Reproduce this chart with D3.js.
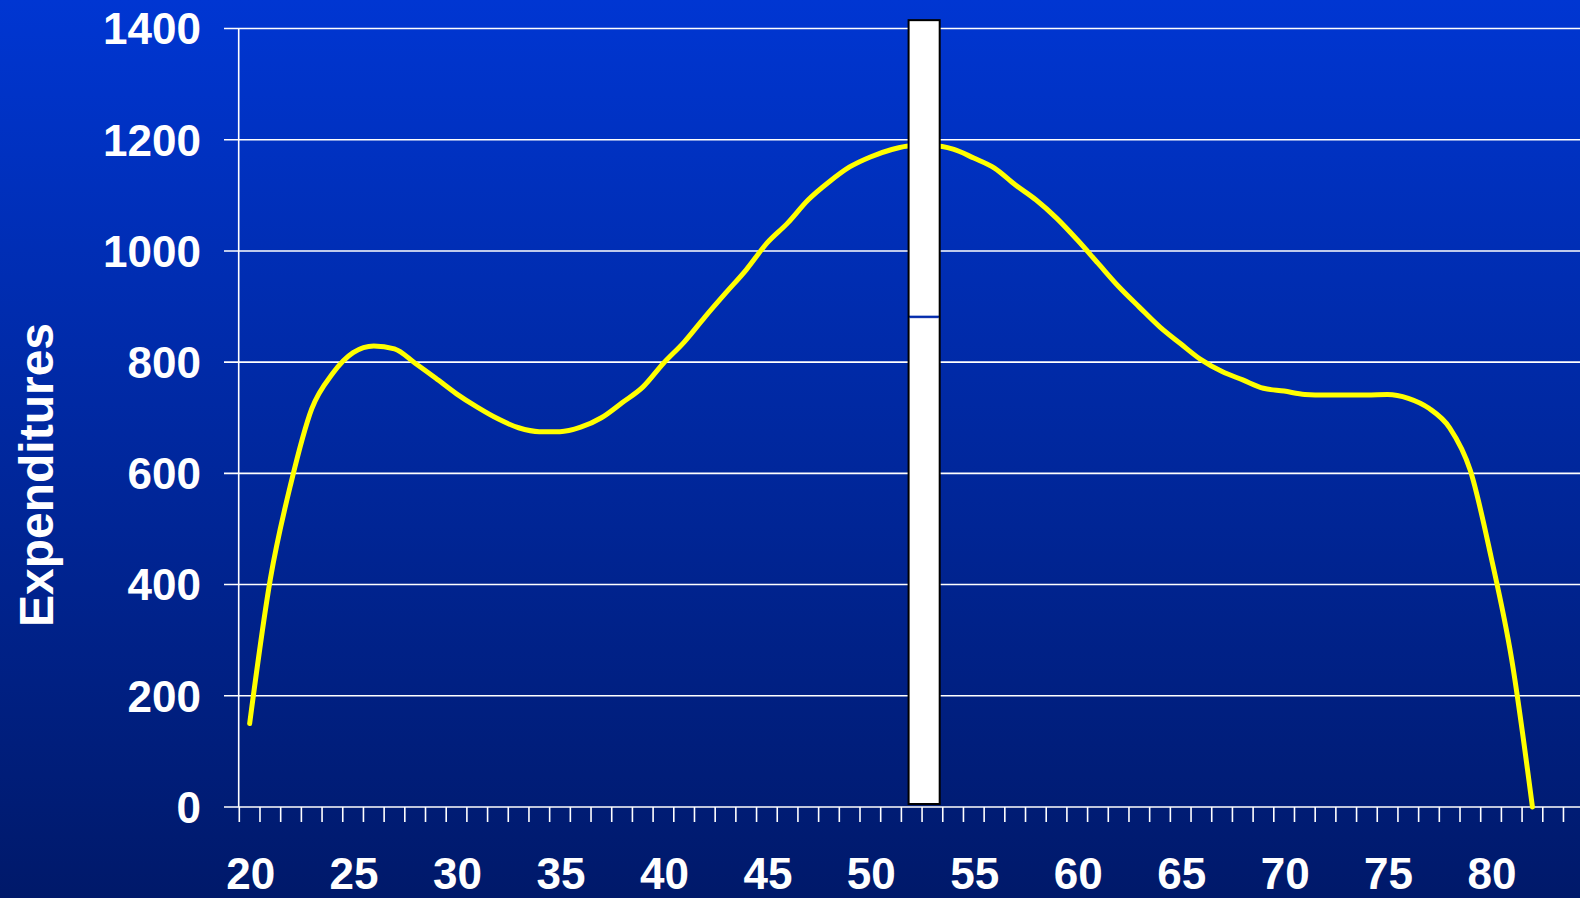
<!DOCTYPE html>
<html>
<head>
<meta charset="utf-8">
<script src="https://cdn.jsdelivr.net/npm/d3@7"></script>
<style>
  html, body { margin: 0; padding: 0; background: #0a2bb0; }
  svg { display: block; }
  text { font-family: "Liberation Sans", Arial, sans-serif; font-weight: bold; fill: #ffffff; }
</style>
</head>
<body>
<svg id="chart" width="1580" height="898"></svg>
<script>
// Spending by age of household head
const ages = d3.range(20, 83);
const expenditures = [
  150, 410, 583, 716, 779, 817, 829, 824, 798, 771,
  743, 719, 698, 682, 675, 675, 683, 700, 727, 755,
  798, 836, 881, 924, 966, 1014, 1050, 1092, 1124, 1151,
  1169, 1182, 1189, 1189, 1183, 1167, 1149, 1119, 1092, 1059,
  1020, 978, 936, 899, 863, 833, 804, 783, 768, 753,
  748, 742, 741, 741, 741, 742, 735, 717, 682, 605,
  450, 265, 0
];
const axisAges = d3.range(20, 86);            // one band per year on the axis
const ageLabels = [20, 25, 30, 35, 40, 45, 50, 55, 60, 65, 70, 75, 80];
const yTicks = [0, 200, 400, 600, 800, 1000, 1200, 1400];
const yTitle = "Expenditures";

// Peak-spending marker column (age span and stacked values)
const markerAges = [51.8, 53.4];
const markerSegments = [[0, 880], [880, 1415]];

const W = 1580, H = 898;
const svg = d3.select("#chart");

const x = d3.scaleLinear()
  .domain([axisAges[0] - 0.5, axisAges[axisAges.length - 1] + 0.5])
  .range([239.3, 239.3 + axisAges.length * 20.69]);
const y = d3.scaleLinear().domain([0, 1400]).range([807, 28.5]);

// background gradient
const defs = svg.append("defs");
const grad = defs.append("linearGradient")
  .attr("id", "bg").attr("x1", 0).attr("y1", 0).attr("x2", 0).attr("y2", 1);
grad.append("stop").attr("offset", "0%").attr("stop-color", "#0036d2");
grad.append("stop").attr("offset", "100%").attr("stop-color", "#00196a");
svg.append("rect").attr("width", W).attr("height", H).attr("fill", "url(#bg)");

// horizontal gridlines (with left tick stubs)
svg.append("g").selectAll("line").data(yTicks).join("line")
  .attr("x1", 224).attr("x2", W)
  .attr("y1", d => y(d)).attr("y2", d => y(d))
  .attr("stroke", "#ffffff").attr("stroke-width", 1.6);

// vertical axis line
svg.append("line")
  .attr("x1", x.range()[0] - 0.6).attr("x2", x.range()[0] - 0.6)
  .attr("y1", y(1400)).attr("y2", y(0))
  .attr("stroke", "#ffffff").attr("stroke-width", 1.6);

// y tick labels
svg.append("g").selectAll("text").data(yTicks).join("text")
  .attr("x", 201).attr("y", d => y(d))
  .attr("dy", "0.36em")
  .attr("text-anchor", "end")
  .attr("font-size", 44)
  .text(d => d);

// x ticks at year boundaries
const boundaries = axisAges.map(a => a - 0.5);
svg.append("g").selectAll("line").data(boundaries).join("line")
  .attr("x1", d => x(d)).attr("x2", d => x(d))
  .attr("y1", y(0)).attr("y2", y(0) + 15)
  .attr("stroke", "#ffffff").attr("stroke-width", 1.6);

// x labels
svg.append("g").selectAll("text").data(ageLabels).join("text")
  .attr("x", d => x(d) + 1).attr("y", 888.5)
  .attr("text-anchor", "middle")
  .attr("font-size", 44)
  .text(d => d);

// y axis title
svg.append("text")
  .attr("transform", "translate(52.5,475) rotate(-90)")
  .attr("text-anchor", "middle")
  .attr("font-size", 48)
  .text(yTitle);

// spending curve
const line = d3.line()
  .x((d, i) => x(ages[i]))
  .y(d => y(d))
  .curve(d3.curveMonotoneX);
svg.append("path")
  .datum(expenditures)
  .attr("d", line)
  .attr("fill", "none")
  .attr("stroke", "#ffff00")
  .attr("stroke-width", 5)
  .attr("stroke-linecap", "round")
  .attr("stroke-linejoin", "round");

// marker column
const mx0 = x(markerAges[0]) + 1, mx1 = x(markerAges[1]) - 1;
svg.append("g").selectAll("rect").data(markerSegments).join("rect")
  .attr("x", mx0).attr("width", mx1 - mx0)
  .attr("y", d => y(d[1])).attr("height", d => y(d[0]) - y(d[1]) - 2)
  .attr("fill", "#ffffff");
svg.append("rect")
  .attr("x", mx0).attr("width", mx1 - mx0)
  .attr("y", y(markerSegments[1][1])).attr("height", y(0) - 3 - y(markerSegments[1][1]))
  .attr("fill", "none").attr("stroke", "#000000").attr("stroke-width", 2);
svg.append("line")
  .attr("x1", mx0 + 1).attr("x2", mx1 - 1)
  .attr("y1", y(markerSegments[0][1])).attr("y2", y(markerSegments[0][1]))
  .attr("stroke", "#0a2aa8").attr("stroke-width", 1);
</script>
</body>
</html>
